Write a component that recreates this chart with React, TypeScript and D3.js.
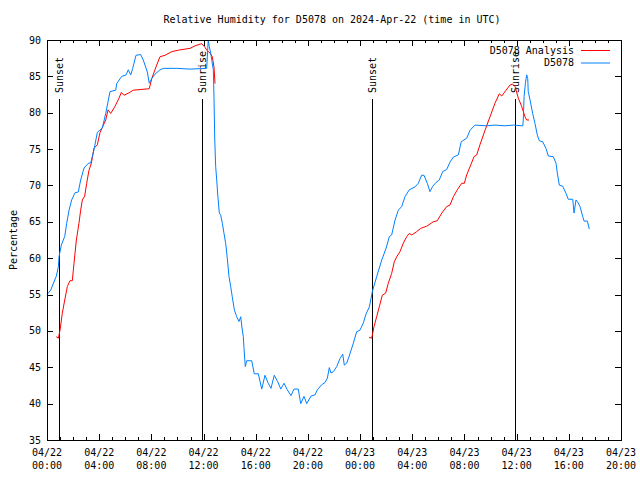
import React from "react";
import * as d3 from "d3";

const title = "Relative Humidity for D5078 on 2024-Apr-22 (time in UTC)";
const yLabel = "Percentage";
const startTime = Date.UTC(2024, 3, 22, 0, 0);
const endTime = Date.UTC(2024, 3, 23, 20, 0);
const yTicks = [35, 40, 45, 50, 55, 60, 65, 70, 75, 80, 85, 90];

// Observations (hours after 2024-04-22 00:00 UTC)
const obsHours = [0.0, 0.28, 0.71, 0.87, 0.92, 1.1, 1.36, 1.51, 1.69, 1.89, 2.15, 2.4, 2.58, 2.84, 3.17, 3.35, 3.6, 3.86, 4.24, 4.5, 4.83, 5.27, 5.34, 5.73, 6.06, 6.23, 6.42, 6.57, 6.82, 7.18, 7.38, 7.69, 7.84, 8.03, 8.28, 8.66, 8.92, 9.94, 10.96, 12.24, 12.36, 12.44, 12.55, 12.65, 12.75, 12.8, 12.86, 12.93, 13.01, 13.09, 13.21, 13.32, 13.44, 13.57, 13.7, 13.82, 13.95, 14.08, 14.2, 14.36, 14.54, 14.72, 14.85, 14.95, 15.05, 15.1, 15.2, 15.31, 15.69, 15.89, 16.2, 16.46, 16.71, 16.96, 17.17, 17.42, 17.69, 17.92, 18.17, 18.42, 18.7, 18.93, 19.26, 19.45, 19.7, 19.91, 20.24, 20.54, 20.72, 21.06, 21.31, 21.49, 21.64, 21.77, 21.95, 22.21, 22.46, 22.67, 22.79, 22.97, 23.17, 23.48, 23.74, 23.99, 24.25, 24.45, 24.71, 24.94, 25.27, 25.66, 25.99, 26.24, 26.42, 26.68, 26.93, 27.19, 27.44, 27.77, 28.21, 28.46, 28.72, 28.9, 29.15, 29.36, 29.57, 29.82, 30.07, 30.33, 30.64, 30.89, 31.15, 31.53, 31.75, 32.17, 32.43, 32.81, 33.71, 34.34, 35.11, 35.75, 36.47, 36.51, 36.57, 36.67, 36.77, 36.85, 36.89, 37.03, 37.23, 37.41, 37.59, 37.74, 38.0, 38.25, 38.43, 38.81, 39.02, 39.12, 39.27, 39.53, 39.79, 39.96, 40.3, 40.4, 40.55, 40.65, 40.86, 41.07, 41.17, 41.42, 41.57];
const obsValues = [55.0, 55.6, 57.5, 58.8, 60.2, 61.8, 63.0, 64.8, 66.6, 68.0, 69.0, 69.1, 70.75, 72.4, 73.05, 73.1, 74.9, 77.3, 77.9, 79.9, 82.9, 83.1, 84.0, 85.0, 85.2, 85.9, 85.2, 86.1, 87.9, 88.0, 87.25, 85.6, 84.05, 84.7, 85.3, 85.9, 86.1, 86.1, 86.0, 86.1, 90.0, 89.1, 88.2, 87.0, 85.9, 82.2, 76.25, 72.6, 70.75, 68.7, 66.2, 65.9, 64.8, 63.4, 62.0, 60.0, 57.5, 56.1, 54.7, 52.9, 51.95, 51.3, 51.95, 50.4, 49.2, 47.6, 45.1, 45.9, 45.9, 44.1, 44.1, 42.0, 43.9, 42.8, 42.1, 43.9, 43.0, 42.0, 42.8, 41.9, 41.1, 42.0, 42.0, 40.0, 41.0, 40.0, 41.05, 41.2, 41.9, 42.6, 42.9, 43.5, 44.95, 44.2, 44.4, 45.1, 46.2, 46.8, 45.3, 45.55, 46.55, 48.3, 49.9, 50.1, 51.1, 52.3, 53.3, 55.4, 57.45, 59.75, 61.35, 62.95, 63.2, 65.25, 66.6, 67.1, 68.45, 69.4, 69.8, 70.3, 71.4, 71.4, 70.3, 69.15, 69.9, 70.4, 70.75, 71.9, 72.2, 73.2, 73.9, 74.2, 76.0, 76.5, 77.6, 78.3, 78.2, 78.3, 78.2, 78.3, 78.2, 79.0, 82.2, 84.05, 85.2, 84.7, 82.9, 81.75, 79.9, 78.5, 76.9, 76.15, 76.0, 75.1, 74.05, 73.95, 73.05, 71.7, 70.05, 69.9, 68.9, 68.1, 68.1, 66.2, 68.0, 67.8, 67.1, 65.7, 65.1, 65.1, 64.0];

// Analysis (two runs, null separates them)
const anaHours = [0.71, 0.87, 1.0, 1.17, 1.36, 1.56, 1.76, 1.94, 2.07, 2.25, 2.45, 2.58, 2.71, 2.89, 3.04, 3.22, 3.4, 3.6, 3.86, 4.06, 4.32, 4.5, 4.68, 4.88, 5.19, 5.52, 5.7, 5.9, 6.29, 6.62, 7.84, 8.03, 8.41, 8.66, 9.05, 9.56, 10.07, 10.58, 10.96, 11.35, 11.86, 12.11, 12.24, 12.5, 12.67, 12.8, 12.88, 18.0, 24.68, 24.89, 25.07, 25.27, 25.47, 25.7, 25.96, 26.16, 26.42, 26.62, 26.81, 27.06, 27.31, 27.57, 27.77, 27.96, 28.34, 28.65, 29.11, 29.61, 29.92, 30.26, 30.64, 30.89, 31.15, 31.45, 31.79, 31.99, 32.17, 32.48, 32.73, 32.94, 33.19, 33.58, 33.96, 34.34, 34.67, 34.86, 35.19, 35.49, 35.69, 35.88, 36.13, 36.39, 36.64, 36.77, 36.95];
const anaValues = [49.2, 49.0, 50.1, 52.4, 54.25, 56.1, 56.9, 56.9, 59.3, 62.5, 64.8, 66.6, 68.0, 68.55, 70.3, 72.1, 73.05, 75.1, 75.6, 77.25, 78.3, 79.0, 80.4, 79.9, 80.8, 82.0, 82.8, 82.4, 82.75, 83.1, 83.3, 84.7, 86.55, 87.7, 87.9, 88.4, 88.6, 88.75, 88.85, 89.2, 89.5, 89.0, 88.6, 88.2, 87.7, 86.3, 84.0, null, 49.1, 49.0, 50.6, 51.95, 53.3, 54.9, 55.2, 56.55, 57.9, 59.5, 60.2, 60.9, 62.05, 62.95, 63.4, 63.2, 63.65, 64.1, 64.4, 65.0, 65.15, 66.2, 67.1, 67.3, 68.45, 69.4, 70.3, 70.3, 71.45, 72.8, 73.95, 74.2, 75.6, 77.6, 79.45, 81.3, 82.6, 82.3, 83.1, 83.8, 83.95, 83.6, 82.0, 80.85, 79.45, 79.0, 79.0];

const eventHours = [0.92, 11.88, 24.91, 35.88];
const eventNames = ["Sunset", "Sunrise", "Sunset", "Sunrise"];

const legendNames = ["D5078 Analysis", "D5078"];
const RED = "#ff0000";
const BLUE = "#0080ff";
const FONT = "'DejaVu Sans Mono', 'Liberation Mono', monospace";

export default function App() {
  const W = 640, H = 480;
  const L = 47, R = 621, T = 40, B = 440;
  const hourMs = 3600 * 1000;
  const x = d3.scaleUtc().domain([new Date(startTime), new Date(endTime)]).range([L, R]);
  const y = d3.scaleLinear().domain([35, 90]).range([B, T]);
  const toDate = (h: number) => new Date(startTime + h * hourMs);

  const obs = obsHours.map((h, i) => ({ t: toDate(h), v: obsValues[i] as number | null }));
  const ana = anaHours.map((h, i) => ({ t: toDate(h), v: anaValues[i] as number | null }));
  const line = d3
    .line<{ t: Date; v: number | null }>()
    .defined((d) => d.v !== null)
    .x((d) => x(d.t))
    .y((d) => y(d.v as number));

  const majorTicks = x.ticks(d3.utcHour.every(4)!);
  const minorTicks = x.ticks(d3.utcHour.every(1)!);
  const fmtDay = d3.utcFormat("%m/%d");
  const fmtTime = d3.utcFormat("%H:%M");

  return (
    <svg width={W} height={H} style={{ position: "absolute", left: 0, top: 0, background: "#fff" }} fontFamily={FONT} fontSize={10}>
      <rect x={0} y={0} width={W} height={H} fill="#fff" />
      <text x={332} y={23} textAnchor="middle">{title}</text>
      {/* minor x ticks */}
      {minorTicks.map((t, i) => (
        <g key={"mi" + i}>
          <line x1={Math.round(x(t)) + 0.5} x2={Math.round(x(t)) + 0.5} y1={B} y2={B - 3} stroke="#000" />
          <line x1={Math.round(x(t)) + 0.5} x2={Math.round(x(t)) + 0.5} y1={T} y2={T + 3} stroke="#000" />
        </g>
      ))}
      {majorTicks.map((t, i) => (
        <g key={"ma" + i}>
          <line x1={Math.round(x(t)) + 0.5} x2={Math.round(x(t)) + 0.5} y1={B} y2={B - 6} stroke="#000" />
          <line x1={Math.round(x(t)) + 0.5} x2={Math.round(x(t)) + 0.5} y1={T} y2={T + 6} stroke="#000" />
          <text x={x(t)} y={456} textAnchor="middle">{fmtDay(t)}</text>
          <text x={x(t)} y={469} textAnchor="middle">{fmtTime(t)}</text>
        </g>
      ))}
      {yTicks.map((v) => (
        <g key={"y" + v}>
          <line x1={L} x2={L + 6} y1={Math.round(y(v)) + 0.5} y2={Math.round(y(v)) + 0.5} stroke="#000" />
          <line x1={R} x2={R - 6} y1={Math.round(y(v)) + 0.5} y2={Math.round(y(v)) + 0.5} stroke="#000" />
          <text x={41} y={y(v)} dy="0.35em" textAnchor="end">{v}</text>
        </g>
      ))}
      <text transform={`translate(13,${(T + B) / 2}) rotate(-90)`} textAnchor="middle" dy="0.35em">{yLabel}</text>
      {/* events */}
      {eventHours.map((h, i) => {
        const ex = Math.round(x(toDate(h))) + 0.5;
        return (
          <g key={"e" + i}>
            <line x1={ex} x2={ex} y1={B} y2={99} stroke="#000" />
            <text transform={`translate(${ex},93) rotate(-90)`} textAnchor="start" dy="0.35em">{eventNames[i]}</text>
          </g>
        );
      })}
      <path d={line(ana) || ""} fill="none" stroke={RED} strokeWidth={1} />
      <path d={line(obs) || ""} fill="none" stroke={BLUE} strokeWidth={1} />
      {/* legend */}
      {legendNames.map((n, i) => (
        <g key={"l" + i}>
          <text x={574} y={50 + i * 12.5} dy="0.35em" textAnchor="end">{n}</text>
          <line x1={581} x2={610} y1={50.5 + i * 12.5} y2={50.5 + i * 12.5} stroke={i === 0 ? RED : BLUE} />
        </g>
      ))}
      <rect x={L + 0.5} y={T + 0.5} width={R - L} height={B - T} fill="none" stroke="#000" />
    </svg>
  );
}
